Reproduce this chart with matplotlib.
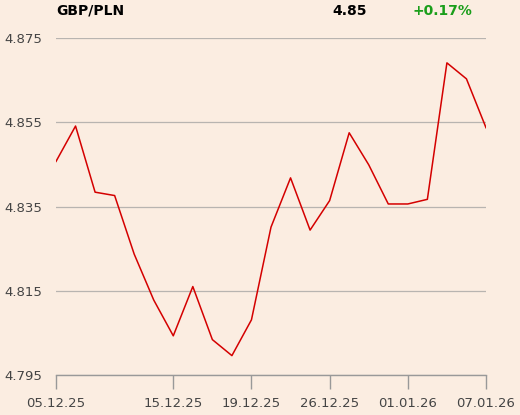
import matplotlib.pyplot as plt
import numpy as np

# GBP/PLN daily closes (trading days)
values = [4.8457, 4.8541, 4.8384, 4.8376, 4.8237, 4.8128, 4.8043, 4.8160,
          4.8034, 4.7996, 4.8081, 4.8301, 4.8418, 4.8294, 4.8364, 4.8525,
          4.8449, 4.8356, 4.8356, 4.8367, 4.8691, 4.8653, 4.8537]
tick_idx = [0, 6, 10, 14, 18, 22]
tick_labels = ['05.12.25', '15.12.25', '19.12.25', '26.12.25', '01.01.26', '07.01.26']
y_ticks = [4.795, 4.815, 4.835, 4.855, 4.875]

bg = '#fbede1'
fig = plt.figure(figsize=(5.2, 4.15), dpi=100, facecolor=bg)
ax = fig.add_axes([56/520, 1 - 375/415, 430/520, 337/415], facecolor=bg)

x = np.arange(len(values))
ax.plot(x, values, color='#d40000', linewidth=1.1, zorder=3)

ax.set_xlim(0, len(values) - 1)
ax.set_ylim(4.795, 4.875)
ax.set_yticks(y_ticks)
ax.set_yticklabels(['%.3f' % v for v in y_ticks])
ax.set_xticks(tick_idx)
ax.set_xticklabels(tick_labels)

ax.grid(axis='y', color='#b8b4b0', linewidth=0.9)
ax.set_axisbelow(True)
for s in ['top', 'right', 'left']:
    ax.spines[s].set_visible(False)
ax.spines['bottom'].set_color('#999999')
ax.spines['bottom'].set_linewidth(1.0)

ax.tick_params(axis='y', length=0, pad=10, labelsize=9.5, labelcolor='#444444')
ax.tick_params(axis='x', length=10, width=1.0, color='#999999', pad=6,
               labelsize=9.5, labelcolor='#444444', direction='out')

fig.text(56/520, 1 - 11/415, 'GBP/PLN', fontsize=10, fontweight='bold',
         color='black', va='center', ha='left')
fig.text(332/520, 1 - 11/415, '4.85', fontsize=10, fontweight='bold',
         color='black', va='center', ha='left')
fig.text(413/520, 1 - 11/415, '+0.17%', fontsize=10, fontweight='bold',
         color='#1a9e1a', va='center', ha='left')

plt.savefig('out.png', dpi=100, facecolor=bg)
